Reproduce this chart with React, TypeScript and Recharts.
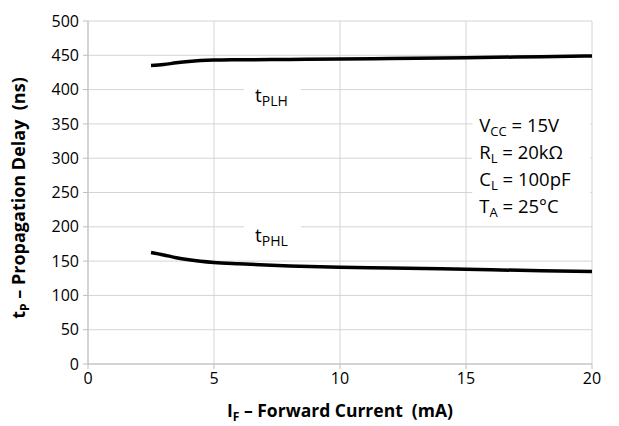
import { LineChart, Line, XAxis, YAxis, CartesianGrid, ReferenceDot, Label } from 'recharts';

const forwardCurrent = [2.5, 3, 3.5, 4, 5, 6, 8, 10, 12, 15, 18, 20];
const tPLH = [435, 436.5, 439, 441, 443, 443.5, 444, 444.5, 445.3, 446.5, 448, 449];
const tPHL = [162.5, 159, 155, 152, 148, 146, 143, 141, 140, 138, 136, 135];
const xTicks = [0, 5, 10, 15, 20];
const yTicks = [0, 50, 100, 150, 200, 250, 300, 350, 400, 450, 500];

const conditions = [
  { main: 'V', sub: 'CC', rest: ' = 15V' },
  { main: 'R', sub: 'L', rest: ' = 20kΩ' },
  { main: 'C', sub: 'L', rest: ' = 100pF' },
  { main: 'T', sub: 'A', rest: ' = 25°C' },
];

const data = forwardCurrent.map((x, i) => ({ x, plh: tPLH[i], phl: tPHL[i] }));

const FONT = '"Open Sans", sans-serif';

function CurveLabel({ cx, cy, name, sub }: any) {
  return (
    <g>
      <rect x={cx - 33} y={cy - 16} width={57} height={32} fill="#fff" />
      <text x={cx - 22} y={cy + 6} fontFamily={FONT} fontSize={19} fill="#000">
        {name}
        <tspan fontSize={14} dy={4}>{sub}</tspan>
      </text>
    </g>
  );
}

function ConditionBox({ cx, cy }: any) {
  return (
    <g>
      <rect x={cx} y={cy} width={118} height={112} fill="#fff" />
      {conditions.map((c, i) => (
        <text key={i} x={cx + 7} y={cy + 25 + i * 27} fontFamily={FONT} fontSize={18.5} fill="#000">
          {c.main}
          <tspan fontSize={13} dy={4}>{c.sub}</tspan>
          <tspan dy={-4}>{c.rest}</tspan>
        </text>
      ))}
    </g>
  );
}

function YTitle() {
  return (
    <text
      x={25}
      y={198}
      transform="rotate(-90 25 198)"
      textAnchor="middle"
      fontFamily={FONT}
      fontWeight="bold"
      fontSize={18}
      fill="#000"
    >
      t<tspan fontSize={12} dy={4}>P</tspan>
      <tspan dy={-4}>{' – Propagation Delay\u00A0\u00A0(ns)'}</tspan>
    </text>
  );
}

function XTitle() {
  return (
    <text x={340} y={417} textAnchor="middle" fontFamily={FONT} fontWeight="bold" fontSize={17.5} fill="#000">
      I<tspan fontSize={12} dy={4}>F</tspan>
      <tspan dy={-4}>{' – Forward Current\u00A0\u00A0(mA)'}</tspan>
    </text>
  );
}

export default function App() {
  return (
    <div style={{ position: 'absolute', left: 0, top: 0, background: '#fff' }}>
      <LineChart width={619} height={426} data={data} margin={{ top: 21, right: 27, bottom: 0, left: 0 }}>
        <CartesianGrid stroke="#d4d4d4" strokeWidth={1} />
        <XAxis
          dataKey="x"
          type="number"
          domain={[0, 20]}
          ticks={xTicks}
          height={62}
          stroke="#bfbfbf"
          tickSize={5}
          tick={{ fill: '#000', fontSize: 16, fontFamily: FONT }}
          tickMargin={4}
        >
          <Label content={() => <XTitle />} />
        </XAxis>
        <YAxis
          type="number"
          domain={[0, 500]}
          ticks={yTicks}
          width={88}
          stroke="#bfbfbf"
          tickSize={5}
          tick={{ fill: '#000', fontSize: 16, fontFamily: FONT }}
          tickMargin={4}
        >
          <Label content={() => <YTitle />} />
        </YAxis>
        <Line dataKey="plh" type="monotone" stroke="#000" strokeWidth={3.5} dot={false} isAnimationActive={false} />
        <Line dataKey="phl" type="monotone" stroke="#000" strokeWidth={3.5} dot={false} isAnimationActive={false} />
        <ReferenceDot x={7.5} y={390} r={0} shape={(p: any) => <CurveLabel {...p} name="t" sub="PLH" />} />
        <ReferenceDot x={7.5} y={187} r={0} shape={(p: any) => <CurveLabel {...p} name="t" sub="PHL" />} />
        <ReferenceDot x={15.25} y={375} r={0} shape={(p: any) => <ConditionBox {...p} />} />
      </LineChart>
    </div>
  );
}
